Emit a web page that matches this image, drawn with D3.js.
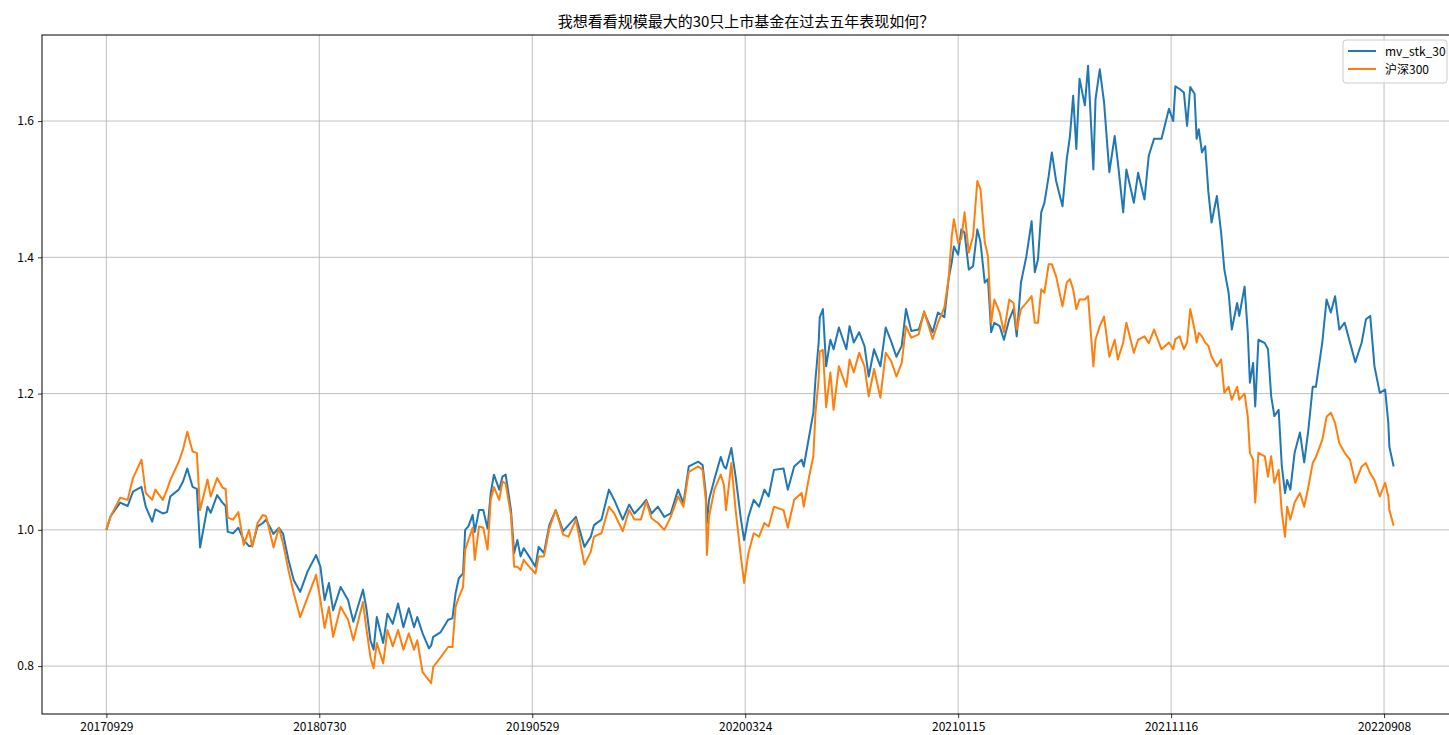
<!DOCTYPE html>
<html>
<head>
<meta charset="utf-8">
<script src="https://cdn.jsdelivr.net/npm/d3@7"></script>
<style>
  body { margin: 0; background: #fff; overflow: hidden; }
  text { font-family: "Noto Sans CJK SC", "DejaVu Sans", sans-serif; }
</style>
</head>
<body>
<div id="wrapper"></div>
<script>
// trading-day index since 20170929
const day = [0,4,13,20,25,33,37,43,46,53,57,60,68,72,76,81,85,88,95,98,104,109,112,114,119,124,129,134,137,142,147,150,157,162,166,171,176,182,189,197,201,205,209,213,220,227,232,241,244,248,251,254,260,264,269,274,279,284,289,292,297,303,305,307,314,321,325,328,331,335,337,340,344,346,350,354,358,361,364,369,372,375,377,380,383,386,389,392,397,403,406,411,416,422,429,434,441,449,455,458,465,472,477,485,491,496,502,507,512,518,524,530,537,542,547,556,560,563,564,566,571,577,580,582,587,591,596,599,603,608,613,618,622,627,636,640,646,653,655,660,664,666,669,670,673,676,680,683,688,695,698,702,707,712,716,721,727,732,737,742,747,751,756,763,768,776,781,787,791,794,796,800,803,806,810,814,818,821,825,828,831,834,839,843,848,852,855,859,864,869,872,875,878,881,885,888,892,898,902,905,908,911,914,919,922,927,929,933,937,942,947,950,955,958,965,969,975,979,984,991,998,1002,1004,1008,1012,1015,1018,1022,1024,1026,1029,1032,1035,1038,1043,1047,1050,1054,1057,1062,1064,1069,1072,1074,1077,1079,1082,1088,1091,1094,1097,1101,1104,1107,1109,1112,1116,1121,1125,1129,1133,1136,1142,1146,1150,1154,1158,1163,1168,1173,1179,1183,1187,1191,1196,1201,1204,1205,1209];

const mvStk30 = [1.0,1.02,1.04,1.035,1.056,1.063,1.034,1.012,1.03,1.024,1.026,1.049,1.059,1.071,1.09,1.063,1.06,0.974,1.034,1.025,1.051,1.04,1.035,0.997,0.995,1.003,0.985,0.976,0.977,1.005,1.01,1.015,0.994,1.003,0.994,0.956,0.926,0.909,0.939,0.963,0.946,0.897,0.922,0.882,0.916,0.897,0.865,0.912,0.887,0.838,0.824,0.872,0.834,0.877,0.862,0.892,0.857,0.885,0.857,0.872,0.848,0.826,0.83,0.843,0.85,0.868,0.87,0.907,0.929,0.936,1.0,1.005,1.022,0.997,1.029,1.029,1.002,1.054,1.081,1.059,1.078,1.081,1.061,1.029,0.966,0.985,0.961,0.973,0.961,0.946,0.975,0.966,1.007,1.029,0.998,1.007,1.019,0.975,0.99,1.007,1.015,1.059,1.044,1.015,1.037,1.024,1.034,1.044,1.024,1.034,1.019,1.024,1.059,1.039,1.093,1.1,1.095,1.054,1.01,1.044,1.074,1.107,1.093,1.09,1.12,1.078,1.015,0.985,1.019,1.044,1.034,1.059,1.049,1.088,1.09,1.059,1.093,1.103,1.093,1.137,1.172,1.221,1.275,1.312,1.324,1.24,1.279,1.265,1.297,1.265,1.299,1.275,1.29,1.27,1.225,1.265,1.24,1.297,1.277,1.254,1.27,1.324,1.292,1.294,1.319,1.29,1.319,1.312,1.368,1.393,1.416,1.404,1.441,1.436,1.382,1.387,1.441,1.422,1.363,1.368,1.29,1.304,1.299,1.279,1.309,1.324,1.284,1.363,1.401,1.453,1.378,1.397,1.466,1.48,1.519,1.554,1.512,1.475,1.544,1.578,1.637,1.559,1.662,1.623,1.681,1.529,1.632,1.676,1.628,1.525,1.578,1.539,1.466,1.529,1.48,1.524,1.485,1.549,1.574,1.574,1.618,1.6,1.651,1.647,1.642,1.593,1.65,1.64,1.574,1.588,1.554,1.563,1.496,1.451,1.49,1.436,1.382,1.348,1.294,1.333,1.314,1.357,1.29,1.216,1.245,1.181,1.279,1.274,1.265,1.196,1.167,1.176,1.093,1.054,1.073,1.059,1.113,1.143,1.099,1.148,1.21,1.21,1.275,1.338,1.319,1.343,1.294,1.304,1.275,1.246,1.275,1.309,1.314,1.24,1.201,1.206,1.157,1.122,1.093];

const hs300 = [1.0,1.02,1.047,1.044,1.076,1.103,1.054,1.044,1.059,1.044,1.059,1.073,1.1,1.118,1.144,1.115,1.113,1.029,1.074,1.049,1.076,1.062,1.06,1.018,1.015,1.026,0.978,1.0,0.975,1.01,1.022,1.02,0.974,1.003,0.98,0.941,0.907,0.872,0.901,0.934,0.897,0.856,0.887,0.843,0.887,0.868,0.838,0.894,0.858,0.813,0.797,0.834,0.804,0.853,0.829,0.853,0.824,0.848,0.824,0.838,0.791,0.779,0.775,0.799,0.813,0.828,0.828,0.887,0.901,0.916,0.971,0.985,1.003,0.956,1.005,1.003,0.971,1.044,1.063,1.044,1.071,1.068,1.049,1.022,0.946,0.946,0.941,0.956,0.946,0.936,0.961,0.961,1.002,1.029,0.993,0.99,1.015,0.949,0.968,0.99,0.995,1.034,1.024,0.998,1.029,1.015,1.015,1.042,1.017,1.01,1.0,1.019,1.049,1.034,1.085,1.093,1.088,1.044,0.963,1.019,1.059,1.081,1.066,1.029,1.098,1.029,0.96,0.922,0.966,0.995,0.99,1.01,1.005,1.034,1.029,1.003,1.044,1.054,1.034,1.078,1.108,1.172,1.221,1.262,1.264,1.18,1.231,1.176,1.24,1.21,1.25,1.231,1.26,1.24,1.196,1.236,1.194,1.26,1.248,1.225,1.245,1.299,1.282,1.287,1.321,1.28,1.304,1.326,1.368,1.431,1.456,1.421,1.427,1.466,1.407,1.431,1.512,1.5,1.422,1.402,1.304,1.338,1.319,1.29,1.338,1.333,1.294,1.324,1.333,1.343,1.304,1.304,1.353,1.348,1.39,1.39,1.372,1.328,1.363,1.368,1.353,1.324,1.338,1.338,1.343,1.24,1.279,1.299,1.313,1.254,1.279,1.25,1.275,1.304,1.26,1.279,1.284,1.274,1.294,1.265,1.275,1.265,1.28,1.284,1.265,1.275,1.324,1.294,1.275,1.289,1.284,1.275,1.27,1.254,1.24,1.25,1.201,1.21,1.191,1.21,1.191,1.2,1.166,1.113,1.103,1.04,1.113,1.108,1.078,1.108,1.069,1.088,1.025,0.99,1.034,1.015,1.04,1.054,1.034,1.064,1.098,1.107,1.132,1.166,1.172,1.157,1.127,1.113,1.103,1.069,1.093,1.098,1.083,1.073,1.049,1.069,1.049,1.029,1.006];

const tickDays = [0, 200, 400, 600, 800, 1000, 1200];
const tickLabels = ["20170929", "20180730", "20190529", "20200324", "20210115", "20211116", "20220908"];
const yTicks = [0.8, 1.0, 1.2, 1.4, 1.6];
const seriesNames = ["mv_stk_30", "沪深300"];
const seriesColors = ["#1f77b4", "#ff7f0e"];
const title = "我想看看规模最大的30只上市基金在过去五年表现如何？";

let dimensions = {
  width: 1449,
  height: 735,
  margin: { top: 35, right: -9, bottom: 21, left: 42 },
};
dimensions.boundedWidth = dimensions.width - dimensions.margin.left - dimensions.margin.right;
dimensions.boundedHeight = dimensions.height - dimensions.margin.top - dimensions.margin.bottom;

const wrapper = d3.select("#wrapper").append("svg")
  .attr("width", dimensions.width)
  .attr("height", dimensions.height);

const bounds = wrapper.append("g")
  .attr("transform", `translate(${dimensions.margin.left},${dimensions.margin.top})`);

// matplotlib-like 5% padding
const xMax = d3.max(day);
const xPad = xMax * 0.05;
const xScale = d3.scaleLinear()
  .domain([-xPad, xMax + xPad])
  .range([0, dimensions.boundedWidth]);

const allY = mvStk30.concat(hs300);
const [yLo, yHi] = d3.extent(allY);
const yPad = (yHi - yLo) * 0.05;
const yScale = d3.scaleLinear()
  .domain([yLo - yPad, yHi + yPad])
  .range([dimensions.boundedHeight, 0]);

// grid
bounds.append("g").selectAll("line").data(tickDays).join("line")
  .attr("x1", d => xScale(d)).attr("x2", d => xScale(d))
  .attr("y1", 0).attr("y2", dimensions.boundedHeight)
  .attr("stroke", "#b0b0b0").attr("stroke-width", 0.8);
bounds.append("g").selectAll("line").data(yTicks).join("line")
  .attr("x1", 0).attr("x2", dimensions.boundedWidth)
  .attr("y1", d => yScale(d)).attr("y2", d => yScale(d))
  .attr("stroke", "#b0b0b0").attr("stroke-width", 0.8);

// lines
const lineGenerator = (vals) => d3.line()
  .x((d, i) => xScale(day[i]))
  .y(d => yScale(d))(vals);

[mvStk30, hs300].forEach((vals, k) => {
  bounds.append("path")
    .attr("d", lineGenerator(vals))
    .attr("fill", "none")
    .attr("stroke", seriesColors[k])
    .attr("stroke-width", 2)
    .attr("stroke-linejoin", "round");
});

// axes
const xAxisGenerator = d3.axisBottom(xScale)
  .tickValues(tickDays)
  .tickFormat((d, i) => tickLabels[i])
  .tickSize(4).tickPadding(4);
const yAxisGenerator = d3.axisLeft(yScale)
  .tickValues(yTicks)
  .tickFormat(d3.format(".1f"))
  .tickSize(4).tickPadding(4);

const xAxis = bounds.append("g")
  .attr("transform", `translate(0,${dimensions.boundedHeight})`)
  .call(xAxisGenerator);
const yAxis = bounds.append("g").call(yAxisGenerator);

[xAxis, yAxis].forEach(ax => {
  ax.select(".domain").remove();
  ax.selectAll(".tick line").attr("stroke", "#000").attr("stroke-width", 0.8);
  ax.selectAll(".tick text").attr("fill", "#000").style("font-size", "12px");
});

// frame
bounds.append("rect")
  .attr("x", 0).attr("y", 0)
  .attr("width", dimensions.boundedWidth)
  .attr("height", dimensions.boundedHeight)
  .attr("fill", "none").attr("stroke", "#000").attr("stroke-width", 1);

// title
wrapper.append("text")
  .attr("x", 746)
  .attr("y", 27)
  .attr("text-anchor", "middle")
  .style("font-size", "15px")
  .text(title);

// legend
const legend = wrapper.append("g").attr("transform", "translate(1343,40)");
legend.append("rect")
  .attr("width", 104).attr("height", 43).attr("rx", 3)
  .attr("fill", "#fff").attr("fill-opacity", 0.8)
  .attr("stroke", "#cccccc").attr("stroke-width", 1);
seriesNames.forEach((name, k) => {
  const g = legend.append("g").attr("transform", `translate(0,${11 + k * 18})`);
  g.append("line").attr("x1", 5).attr("x2", 33).attr("y1", 0).attr("y2", 0)
    .attr("stroke", seriesColors[k]).attr("stroke-width", 2);
  g.append("text").attr("x", 42).attr("y", 4.5)
    .style("font-size", "12px").text(name);
});
</script>
</body>
</html>
